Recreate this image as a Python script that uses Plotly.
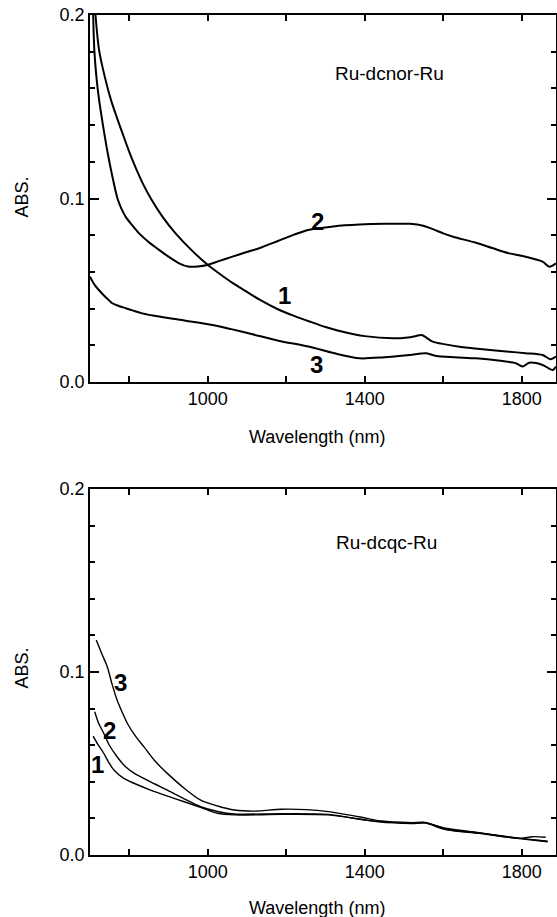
import plotly.graph_objects as go
from plotly.subplots import make_subplots

# ---- Top panel: Ru-dcnor-Ru ----
top_c1_wl = [714, 723, 738, 753, 767, 782, 799, 816, 835, 855, 885, 918, 958, 999, 1030, 1063, 1097, 1131, 1180, 1220, 1259, 1300, 1344, 1400, 1471, 1510, 1531, 1545, 1573, 1605, 1641, 1700, 1768, 1810, 1853, 1874, 1887]
top_c1_abs = [0.200, 0.181, 0.166, 0.154, 0.145, 0.136, 0.126, 0.117, 0.108, 0.100, 0.090, 0.081, 0.072, 0.064, 0.059, 0.054, 0.0495, 0.045, 0.0395, 0.036, 0.033, 0.030, 0.0274, 0.025, 0.0238, 0.0243, 0.0251, 0.0256, 0.022, 0.0205, 0.0192, 0.0178, 0.0165, 0.0157, 0.0147, 0.0124, 0.0138]

top_c2_wl = [708, 711, 716, 723, 733, 744, 757, 770, 780, 791, 808, 825, 850, 876, 900, 927, 950, 975, 999, 1030, 1063, 1097, 1131, 1180, 1220, 1259, 1320, 1387, 1450, 1515, 1549, 1575, 1600, 1625, 1683, 1725, 1768, 1802, 1853, 1870, 1887]
top_c2_abs = [0.200, 0.181, 0.167, 0.154, 0.140, 0.126, 0.112, 0.100, 0.0945, 0.090, 0.0853, 0.081, 0.0762, 0.072, 0.0683, 0.0647, 0.0629, 0.0630, 0.0638, 0.0660, 0.0683, 0.0707, 0.0729, 0.0770, 0.0803, 0.0830, 0.0848, 0.0858, 0.0862, 0.0862, 0.0852, 0.0832, 0.0810, 0.0792, 0.0759, 0.0730, 0.0701, 0.0687, 0.0656, 0.0628, 0.0647]

top_c3_wl = [700, 710, 723, 740, 757, 775, 791, 810, 833, 880, 944, 1012, 1060, 1114, 1180, 1259, 1320, 1387, 1450, 1515, 1557, 1582, 1630, 1683, 1740, 1785, 1802, 1819, 1853, 1879, 1887]
top_c3_abs = [0.0574, 0.0535, 0.050, 0.0462, 0.0429, 0.0413, 0.0402, 0.0389, 0.0374, 0.0355, 0.0334, 0.0311, 0.0288, 0.026, 0.0225, 0.0192, 0.0158, 0.0129, 0.0135, 0.0147, 0.0156, 0.0142, 0.0135, 0.0129, 0.0117, 0.0102, 0.0084, 0.0105, 0.0093, 0.0065, 0.0084]

# ---- Bottom panel: Ru-dcqc-Ru ----
bot_c1_wl = [708, 720, 735, 748, 761, 785, 812, 854, 900, 940, 985, 1025, 1068, 1187, 1307, 1392, 1435, 1520, 1554, 1606, 1691, 1793, 1866]
bot_c1_abs = [0.065, 0.0605, 0.0556, 0.0505, 0.0464, 0.0420, 0.0392, 0.0355, 0.0320, 0.0291, 0.0258, 0.0228, 0.0219, 0.0222, 0.0219, 0.0195, 0.0181, 0.0172, 0.0174, 0.0139, 0.0118, 0.0090, 0.0072]

bot_c2_wl = [712, 722, 735, 750, 769, 790, 812, 837, 865, 897, 940, 982, 1025, 1068, 1187, 1307, 1392, 1435, 1520, 1554, 1606, 1691, 1793, 1866]
bot_c2_abs = [0.0783, 0.0720, 0.0665, 0.0597, 0.0537, 0.0483, 0.0447, 0.0419, 0.0388, 0.0355, 0.0307, 0.0264, 0.0238, 0.0224, 0.0226, 0.0222, 0.0193, 0.0184, 0.0175, 0.0178, 0.0141, 0.0121, 0.0092, 0.0075]

bot_c3_wl = [716, 730, 744, 756, 769, 782, 795, 815, 837, 865, 897, 940, 982, 1025, 1068, 1119, 1187, 1250, 1307, 1392, 1435, 1520, 1554, 1606, 1691, 1793, 1827, 1861]
bot_c3_abs = [0.1175, 0.1100, 0.1029, 0.0935, 0.0847, 0.0780, 0.072, 0.0652, 0.0592, 0.0515, 0.0446, 0.0365, 0.030, 0.0268, 0.0246, 0.024, 0.025, 0.0248, 0.0237, 0.0206, 0.0188, 0.0177, 0.0177, 0.0146, 0.0122, 0.0091, 0.010, 0.0097]

x_ticks = [1000, 1400, 1800]
x_minor = [800, 1200, 1600]
y_ticks = [0.0, 0.1, 0.2]

H = 917.0
top_dom = [(H - 382) / H, (H - 15) / H]
bot_dom = [(H - 855) / H, (H - 489) / H]

fig = make_subplots(rows=2, cols=1)

def add(wl, ab, row, width):
    fig.add_trace(go.Scatter(x=wl, y=ab, mode="lines",
                             line=dict(color="black", width=width, shape="spline", smoothing=0.8),
                             hoverinfo="skip"), row=row, col=1)

add(top_c1_wl, top_c1_abs, 1, 2.0)
add(top_c2_wl, top_c2_abs, 1, 2.0)
add(top_c3_wl, top_c3_abs, 1, 2.0)
add(bot_c1_wl, bot_c1_abs, 2, 1.4)
add(bot_c2_wl, bot_c2_abs, 2, 1.4)
add(bot_c3_wl, bot_c3_abs, 2, 1.4)

W0 = 90.0
WR = 556.0
PW = WR - W0
xmax = 700 + PW / 0.3925

xcommon = dict(range=[700, xmax], showline=True, linecolor="black", linewidth=1.6,
               mirror="ticks", ticks="inside", ticklen=6, tickwidth=1.5, tickcolor="black",
               tickmode="array", tickvals=x_ticks, ticktext=[str(v) for v in x_ticks],
               minor=dict(tickmode="array", tickvals=x_minor, ticks="inside", ticklen=6,
                          tickwidth=1.5, tickcolor="black", showgrid=False),
               showgrid=False, zeroline=False, automargin=False, tickfont=dict(size=18))
ycommon = dict(range=[0, 0.2], showline=True, linecolor="black", linewidth=1.6,
               mirror="ticks", ticks="inside", ticklen=9, tickwidth=1.5, tickcolor="black",
               tickmode="array", tickvals=y_ticks, ticktext=["%.1f" % v for v in y_ticks],
               minor=dict(dtick=0.02, tick0=0, ticks="inside", ticklen=5, tickwidth=1.5,
                          tickcolor="black", showgrid=False),
               showgrid=False, zeroline=False, automargin=False, tickfont=dict(size=18))

fig.update_xaxes(**xcommon)
fig.update_yaxes(**ycommon)
fig.update_layout(yaxis=dict(domain=top_dom), yaxis2=dict(domain=bot_dom),
                  xaxis=dict(domain=[0, 1]), xaxis2=dict(domain=[0, 1]))

def px(xp):
    return (xp - W0) / PW

def py(yp):
    return (H - yp) / H

ann = []
def text(t, xp, yp, size=18, bold=False, angle=0):
    ann.append(dict(text=("<b>%s</b>" % t) if bold else t, x=px(xp), y=py(yp),
                    xref="paper", yref="paper", showarrow=False, textangle=angle,
                    font=dict(size=size, color="black"), xanchor="center", yanchor="middle"))

text("ABS.", 21.5, 197, angle=-90)
text("ABS.", 21.5, 668, angle=-90)
text("Wavelength (nm)", 317, 437)
text("Wavelength (nm)", 317, 908)
text("Ru-dcnor-Ru", 389, 74, size=19)
text("Ru-dcqc-Ru", 386, 543, size=19)
# curve labels
text("2", 317.5, 221, size=24, bold=True)
text("1", 284, 296, size=24, bold=True)
text("3", 316, 364, size=24, bold=True)
text("3", 120.5, 682, size=24, bold=True)
text("2", 109.5, 730, size=24, bold=True)
text("1", 97, 764, size=24, bold=True)

fig.update_layout(width=557, height=917, margin=dict(l=W0, r=557 - WR, t=0, b=0, autoexpand=False),
                  plot_bgcolor="white", paper_bgcolor="white", showlegend=False,
                  font=dict(family="Liberation Sans, Arial, sans-serif", size=18, color="black"),
                  annotations=ann)

fig.write_html("out.html", config={"displayModeBar": False},
               post_script="document.body.style.margin='0';document.body.style.padding='0';document.body.style.overflow='hidden';")
